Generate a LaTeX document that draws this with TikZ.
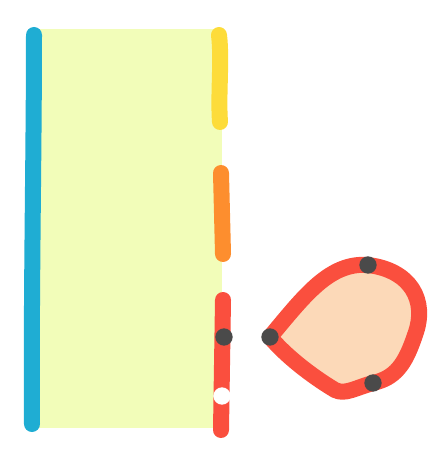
\documentclass[tikz,border=0pt]{standalone}
\usetikzlibrary{positioning}

\definecolor{padfill}{HTML}{F2FDB9}
\definecolor{edgeblue}{HTML}{1FADD3}
\definecolor{edgeyellow}{HTML}{FDDC3A}
\definecolor{edgeorange}{HTML}{FD8E2E}
\definecolor{edgered}{HTML}{FA4F3E}
\definecolor{blobfill}{HTML}{FCD9B8}
\definecolor{dotgrey}{HTML}{4A4A4A}

\begin{document}
\begin{tikzpicture}[%
        x = 0.75pt, y = -0.75pt,
        stroke/.style = {%
            line width = 12pt,
            line cap = round,
            line join = round
        },
        pin/.style = {%
            fill = #1
        }
    ]
        \useasboundingbox (0,0) rectangle (436,463);

        % Corners of the pale pad.
        \coordinate (tl) at (33,29);
        \coordinate (tr) at (222,29);
        \coordinate (br) at (222,428);
        \coordinate (bl) at (33,428);
        \fill[padfill] (tl) -- (tr) -- (br) -- (bl) -- cycle;

        % End points for the strokes along the edges.
        \coordinate (b1) at (34,35);
        \coordinate (b2) at (32,424);
        \coordinate (y1) at (219,35);
        \coordinate (y2) at (220,122);
        \coordinate (o1) at (221,173);
        \coordinate (o2) at (223,254);
        \coordinate (r1) at (223,300);
        \coordinate (r2) at (221,430);

        % Strokes.
        \draw[stroke, edgeblue] (b1) .. controls (34,150) and (31,300) .. (b2);
        \draw[stroke, edgeyellow] (y1) .. controls (222,60) and (218,95) .. (y2);
        \draw[stroke, edgeorange] (o1) -- (o2);
        \draw[stroke, edgered] (r1) -- (r2);

        % Points on the closed blob.
        \coordinate (p) at (270,337);
        \coordinate (q) at (368,265);
        \coordinate (s) at (373,383);

        % The blob.
        \draw[stroke, edgered, fill = blobfill] (p)
            .. controls (305,295) and (330,262) .. (q)
            .. controls (410,270) and (428,300) .. (415,335)
            .. controls (405,365) and (395,378) .. (s)
            .. controls (355,388) and (345,395) .. (335,390)
            .. controls (310,375) and (285,355) .. cycle;

        % Dots.
        \coordinate (d) at (224,337);
        \coordinate (w) at (222,396);
        \foreach\x in {d, p, q, s}{%
            \fill[pin = dotgrey] (\x) circle (6.5pt);
        }
        \fill[pin = white] (w) circle (6.5pt);
    \end{tikzpicture}
\end{document}
